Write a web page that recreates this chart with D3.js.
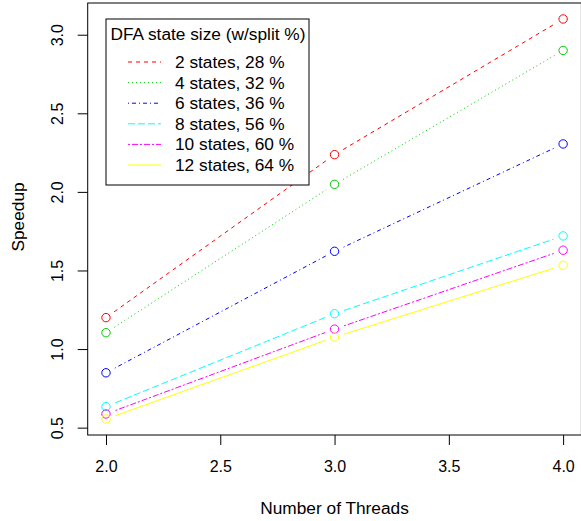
<!DOCTYPE html>
<html>
<head>
<meta charset="utf-8">
<script src="https://cdn.jsdelivr.net/npm/d3@7"></script>
<style>
  html, body { margin: 0; padding: 0; background: #fff; }
  svg { display: block; font-family: "Liberation Sans", Arial, Helvetica, sans-serif; }
</style>
</head>
<body>
<div id="chart"></div>
<script>
"use strict";

// ---------------------------------------------------------------------------
// Data
// ---------------------------------------------------------------------------

const threads = [2, 3, 4];

const seriesNames = [
  "2 states, 28 %",
  "4 states, 32 %",
  "6 states, 36 %",
  "8 states, 56 %",
  "10 states, 60 %",
  "12 states, 64 %",
];

const speedup2 = [1.20, 2.237, 3.10];
const speedup4 = [1.104, 2.048, 2.90];
const speedup6 = [0.849, 1.622, 2.305];
const speedup8 = [0.634, 1.225, 1.72];
const speedup10 = [0.587, 1.127, 1.629];
const speedup12 = [0.555, 1.076, 1.533];

const xTicks = [2.0, 2.5, 3.0, 3.5, 4.0];
const yTicks = [0.5, 1.0, 1.5, 2.0, 2.5, 3.0];

const legendTitle = "DFA state size (w/split %)";

// R palette colours 2..7 and line types 2..6, 1
const colors = ["#FF0000", "#00CD00", "#0000FF", "#00FFFF", "#FF00FF", "#FFFF00"];
const dashes = ["4,4", "1,3", "1,3,4,3", "7,3", "2,2,6,2", null];

// ---------------------------------------------------------------------------
// Layout
// ---------------------------------------------------------------------------

const width = 581;
const height = 521;
const plot = { left: 87.7, right: 581.4, top: 3, bottom: 435 };

const allSeries = [speedup2, speedup4, speedup6, speedup8, speedup10, speedup12];

// R style 4% range expansion
function expand(ext) {
  const d = (ext[1] - ext[0]) * 0.04;
  return [ext[0] - d, ext[1] + d];
}

const x = d3.scaleLinear()
  .domain(expand(d3.extent(threads)))
  .range([plot.left, plot.right]);

const y = d3.scaleLinear()
  .domain(expand(d3.extent(allSeries.flat())))
  .range([plot.bottom, plot.top]);

const svg = d3.select("#chart")
  .append("svg")
  .attr("width", width)
  .attr("height", height);

// ---------------------------------------------------------------------------
// Axes
// ---------------------------------------------------------------------------

const xAxis = svg.append("g")
  .attr("transform", `translate(0,${plot.bottom})`)
  .call(d3.axisBottom(x).tickValues(xTicks).tickFormat(d3.format(".1f"))
    .tickSize(10).tickPadding(16));

const yAxis = svg.append("g")
  .attr("transform", `translate(${plot.left},0)`)
  .call(d3.axisLeft(y).tickValues(yTicks).tickFormat(d3.format(".1f"))
    .tickSize(10).tickPadding(0));

[xAxis, yAxis].forEach((ax) => {
  ax.select(".domain").remove();
  ax.selectAll(".tick line").attr("stroke", "#000").attr("stroke-width", 1);
  ax.selectAll(".tick text")
    .attr("fill", "#000")
    .attr("font-size", "16px")
    .attr("font-family", "'Liberation Sans', Arial, sans-serif");
});

// rotated y labels, like R's las = 0
yAxis.selectAll(".tick text")
  .attr("x", null)
  .attr("text-anchor", "middle")
  .attr("transform", "translate(-30,0) rotate(-90)")
  .attr("dy", "0.35em");

xAxis.selectAll(".tick text").attr("dy", "0.71em");

// plot frame
svg.append("rect")
  .attr("x", plot.left)
  .attr("y", plot.top)
  .attr("width", plot.right - plot.left)
  .attr("height", plot.bottom - plot.top)
  .attr("fill", "none")
  .attr("stroke", "#000")
  .attr("stroke-width", 1);

svg.append("text")
  .attr("x", (plot.left + plot.right) / 2)
  .attr("y", 514)
  .attr("text-anchor", "middle")
  .attr("font-size", "17.3px")
  .text("Number of Threads");

svg.append("text")
  .attr("transform", "translate(24,217) rotate(-90)")
  .attr("text-anchor", "middle")
  .attr("font-size", "17.3px")
  .text("Speedup");

// ---------------------------------------------------------------------------
// Series: type = "b" (segments with gaps around points)
// ---------------------------------------------------------------------------

const gap = 10;
const marks = svg.append("g");

allSeries.forEach((vals, s) => {
  const pts = threads.map((t, i) => [x(t), y(vals[i])]);

  for (let i = 0; i < pts.length - 1; i++) {
    const [x0, y0] = pts[i];
    const [x1, y1] = pts[i + 1];
    const len = Math.hypot(x1 - x0, y1 - y0);
    const ux = (x1 - x0) / len;
    const uy = (y1 - y0) / len;
    const seg = marks.append("line")
      .attr("x1", x0 + ux * gap)
      .attr("y1", y0 + uy * gap)
      .attr("x2", x1 - ux * gap)
      .attr("y2", y1 - uy * gap)
      .attr("stroke", colors[s])
      .attr("stroke-width", 1);
    if (dashes[s]) seg.attr("stroke-dasharray", dashes[s]);
  }

  marks.selectAll(null)
    .data(pts)
    .enter()
    .append("circle")
    .attr("cx", (d) => d[0])
    .attr("cy", (d) => d[1])
    .attr("r", 4.2)
    .attr("fill", "none")
    .attr("stroke", colors[s])
    .attr("stroke-width", 1);
});

// ---------------------------------------------------------------------------
// Legend
// ---------------------------------------------------------------------------

const legend = svg.append("g");

legend.append("rect")
  .attr("x", 106)
  .attr("y", 19)
  .attr("width", 203)
  .attr("height", 166)
  .attr("fill", "#fff")
  .attr("stroke", "#000")
  .attr("stroke-width", 1);

legend.append("text")
  .attr("x", 110.5)
  .attr("y", 40)
  .attr("font-size", "17.3px")
  .text(legendTitle);

const rowY = d3.scalePoint()
  .domain(seriesNames)
  .range([62, 165]);

seriesNames.forEach((name, s) => {
  const yy = rowY(name);
  const ln = legend.append("line")
    .attr("x1", 128)
    .attr("x2", 161)
    .attr("y1", yy)
    .attr("y2", yy)
    .attr("stroke", colors[s])
    .attr("stroke-width", 1);
  if (dashes[s]) ln.attr("stroke-dasharray", dashes[s]);

  legend.append("text")
    .attr("x", 175)
    .attr("y", yy)
    .attr("dy", "0.35em")
    .attr("font-size", "17.3px")
    .text(name);
});
</script>
</body>
</html>
